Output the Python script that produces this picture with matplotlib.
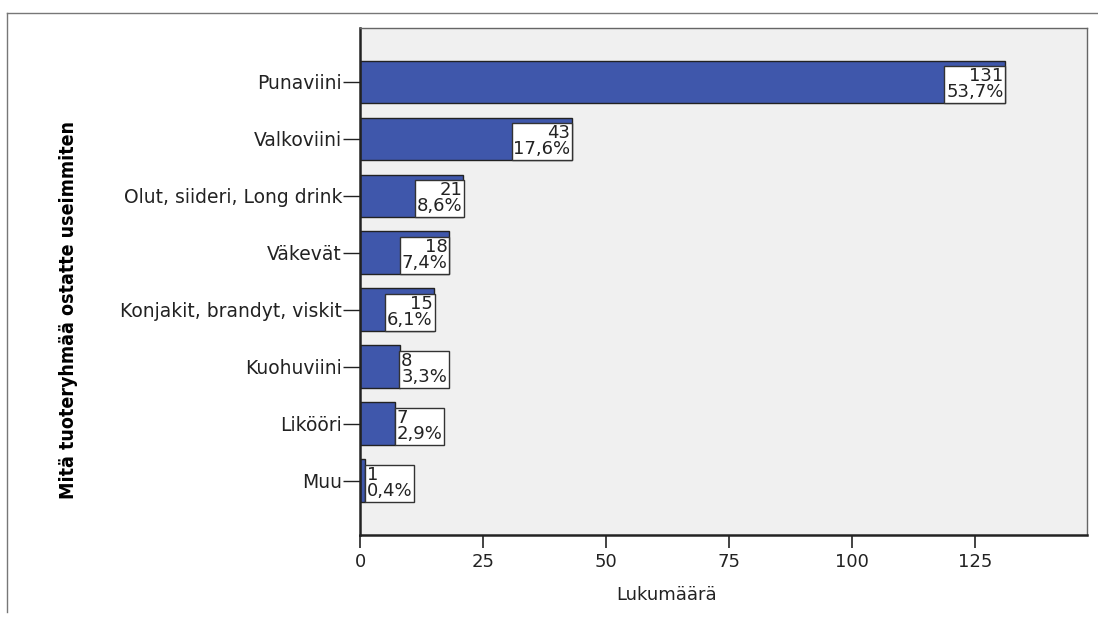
import matplotlib.pyplot as plt
from matplotlib.lines import Line2D

categories = ["Punaviini", "Valkoviini", "Olut, siideri, Long drink", "Väkevät",
              "Konjakit, brandyt, viskit", "Kuohuviini", "Likööri", "Muu"]
counts = [131, 43, 21, 18, 15, 8, 7, 1]
xticks = [0, 25, 50, 75, 100, 125]

total = sum(counts)
bar_color = "#3F57AB"

plt.rcParams["font.family"] = ["DejaVu Sans"]

fig = plt.figure(figsize=(10.98, 6.17), dpi=100)
ax = fig.add_axes([0.328, 0.133, 0.662, 0.822])
ax.set_facecolor("#F0F0F0")

ypos = list(range(len(categories)))
ax.barh(ypos, counts, height=0.75, color=bar_color, edgecolor="#222222", linewidth=1)

# count + percent boxes: inside the bar end when it fits, otherwise just after it
for y, v in zip(ypos, counts):
    pct = f"{v / total * 100:.1f}".replace(".", ",") + "%"
    label = f"{v}\n{pct}"
    inside = v > 12
    ax.text(v - 0.25 if inside else v + 0.35, y + 0.04, label,
            ha="right" if inside else "left", va="center",
            multialignment="right" if inside else "left",
            fontsize=13, linespacing=0.82, color="#222222",
            bbox=dict(boxstyle="square,pad=0.1", facecolor="white",
                      edgecolor="#333333", linewidth=1))

ax.set_xlim(0, 147.7)
ax.set_ylim(7.95, -0.95)
ax.set_xticks(xticks)
ax.set_yticks(ypos)
ax.set_yticklabels(categories)
ax.tick_params(axis="y", length=12, width=1, pad=1, labelsize=13.5, colors="#222222")
ax.tick_params(axis="x", length=9, width=1.2, pad=4, labelsize=13, colors="#222222")

for side in ("top", "right"):
    ax.spines[side].set_color("#666666")
    ax.spines[side].set_linewidth(1)
for side in ("left", "bottom"):
    ax.spines[side].set_color("#222222")
    ax.spines[side].set_linewidth(1.8)

ax.set_xlabel("Lukumäärä", fontsize=13, color="#222222")
ax.xaxis.set_label_coords(0.422, -0.1)

fig.text(0.062, 0.497, "Mitä tuoteryhmää ostatte useimmiten", rotation=90,
         ha="center", va="center", fontsize=14, fontweight="bold",
         family=["Liberation Sans Narrow", "DejaVu Sans"], stretch="condensed")

# outer frame edges
fig.add_artist(Line2D([7 / 1098, 1], [1 - 13 / 617, 1 - 13 / 617],
                      transform=fig.transFigure, color="#777777", linewidth=1))
fig.add_artist(Line2D([7 / 1098, 7 / 1098], [1 - 13 / 617, 1 - 612 / 617],
                      transform=fig.transFigure, color="#777777", linewidth=1))

fig.savefig("out.png", dpi=100)
